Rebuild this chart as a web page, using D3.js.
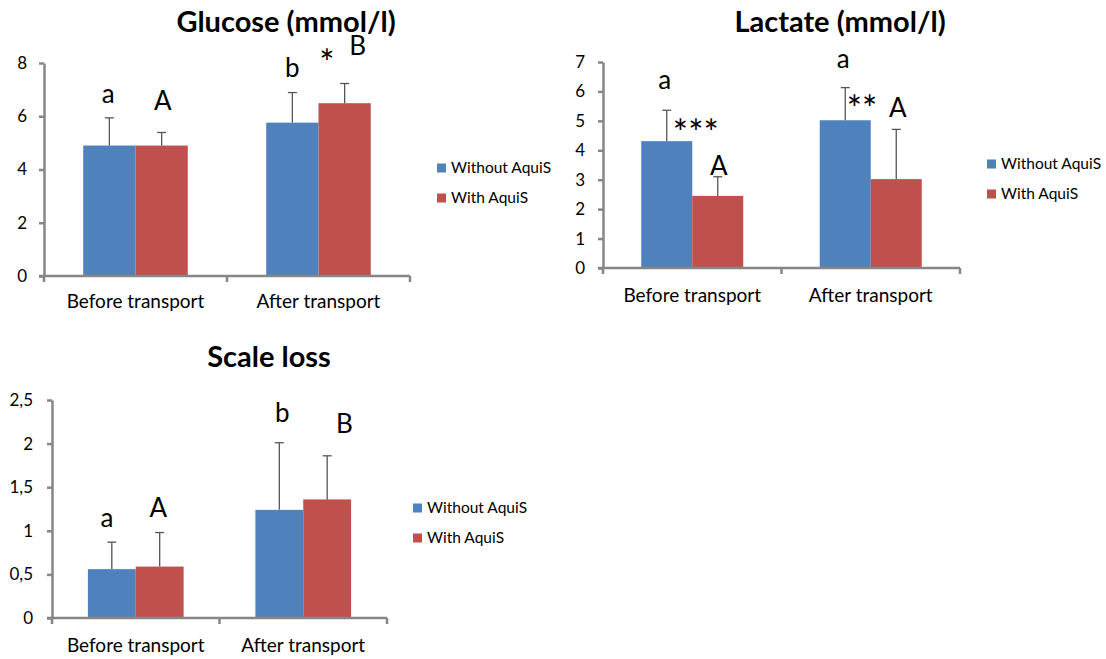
<!DOCTYPE html>
<html>
<head>
<meta charset="utf-8">
<script src="https://cdn.jsdelivr.net/npm/d3@7"></script>
<style>
  html, body { margin: 0; padding: 0; background: #fff; }
  svg { display: block; font-family: Lato, "Open Sans", sans-serif; }
</style>
</head>
<body>
<svg id="chart" width="1106" height="659"></svg>
<script>
// ---------- data ----------
const categories = ["Before transport", "After transport"];
const seriesNames = ["Without AquiS", "With AquiS"];
const seriesColors = ["#4F81BD", "#C0504D"];

const glucoseTitle = "Glucose (mmol/l)";
const glucoseWithout = [4.90, 5.76];
const glucoseWith = [4.90, 6.49];
const glucoseWithoutSD = [1.04, 1.13];
const glucoseWithSD = [0.49, 0.74];
const glucoseTicks = [0, 2, 4, 6, 8];
const glucoseNotes = [
  {t: "a", c: 0, s: 0, v: 6.50, dx: -0.02},
  {t: "A", c: 0, s: 1, v: 6.24, dx: 0.02},
  {t: "b", c: 1, s: 0, v: 7.48, dx: 0},
  {t: "*", c: 1, s: 0, v: 7.51, dx: 0.66},
  {t: "B", c: 1, s: 1, v: 8.30, dx: 0.25}
];

const lactateTitle = "Lactate (mmol/l)";
const lactateWithout = [4.31, 5.02];
const lactateWith = [2.45, 3.02];
const lactateWithoutSD = [1.05, 1.11];
const lactateWithSD = [0.65, 1.69];
const lactateTicks = [0, 1, 2, 3, 4, 5, 6, 7];
const lactateNotes = [
  {t: "a", c: 0, s: 0, v: 6.08, dx: -0.04},
  {t: "***", c: 0, s: 0, v: 4.15, dx: 0.57},
  {t: "A", c: 0, s: 1, v: 3.16, dx: 0.02},
  {t: "a", c: 1, s: 0, v: 6.80, dx: -0.04},
  {t: "**", c: 1, s: 0, v: 4.96, dx: 0.33},
  {t: "A", c: 1, s: 1, v: 5.13, dx: 0.03}
];

const scaleTitle = "Scale loss";
const scaleWithout = [0.56, 1.24];
const scaleWith = [0.59, 1.36];
const scaleWithoutSD = [0.31, 0.77];
const scaleWithSD = [0.39, 0.50];
const scaleTicks = [0, 0.5, 1, 1.5, 2, 2.5];
const scaleNotes = [
  {t: "a", c: 0, s: 0, v: 1.04, dx: -0.1},
  {t: "A", c: 0, s: 1, v: 1.16, dx: -0.03},
  {t: "b", c: 1, s: 0, v: 2.25, dx: 0.06},
  {t: "B", c: 1, s: 1, v: 2.12, dx: 0.36}
];

const commaFmt = d3.formatLocale({decimal: ",", thousands: ".", grouping: [3], currency: ["", ""]}).format("~g");

// ---------- layout ----------
const panels = [
  {title: glucoseTitle, values: [glucoseWithout, glucoseWith], sds: [glucoseWithoutSD, glucoseWithSD],
   ticks: glucoseTicks, notes: glucoseNotes,
   x0: 44, x1: 410, yTop: 63, yBot: 276, labelX: 27, catY: 308,
   titleX: 286, titleY: 32, legX: 437, legY: 168},
  {title: lactateTitle, values: [lactateWithout, lactateWith], sds: [lactateWithoutSD, lactateWithSD],
   ticks: lactateTicks, notes: lactateNotes,
   x0: 603, x1: 960, yTop: 62, yBot: 268, labelX: 585, catY: 302,
   titleX: 840, titleY: 32, legX: 987, legY: 164},
  {title: scaleTitle, values: [scaleWithout, scaleWith], sds: [scaleWithoutSD, scaleWithSD],
   ticks: scaleTicks, notes: scaleNotes, fmt: commaFmt,
   x0: 52, x1: 387, yTop: 400, yBot: 618, labelX: 33, catY: 652,
   titleX: 269, titleY: 367, legX: 413, legY: 508}
];

const svg = d3.select("#chart");
const axisColor = "#868686";

panels.forEach(p => {
  const g = svg.append("g");
  const maxV = p.ticks[p.ticks.length - 1];
  const y = d3.scaleLinear().domain([0, maxV]).range([p.yBot, p.yTop]);
  const x = d3.scaleBand().domain(categories).range([p.x0, p.x1]).paddingInner(0).paddingOuter(0);
  const bw = x.bandwidth();
  const barW = bw / 3.5;
  const gap = (bw - 2 * barW) / 2;
  const xs = d3.scaleBand().domain([0, 1]).range([gap, bw - gap]).padding(0);

  // title
  g.append("text").attr("x", p.titleX).attr("y", p.titleY)
    .attr("text-anchor", "middle").attr("font-size", 29).attr("font-weight", "bold")
    .attr("fill", "#000").text(p.title);

  // bars
  [0, 1].forEach(s => {
    g.selectAll(null).data(categories).enter().append("rect")
      .attr("x", (c) => x(c) + xs(s))
      .attr("y", (c, i) => y(p.values[s][i]))
      .attr("width", xs.bandwidth())
      .attr("height", (c, i) => y(0) - y(p.values[s][i]))
      .attr("fill", seriesColors[s]);
  });

  // error bars
  [0, 1].forEach(s => {
    categories.forEach((c, i) => {
      const cx = x(c) + xs(s) + xs.bandwidth() / 2;
      const top = y(p.values[s][i] + p.sds[s][i]);
      g.append("line").attr("x1", cx).attr("x2", cx)
        .attr("y1", y(p.values[s][i])).attr("y2", top)
        .attr("stroke", "#555").attr("stroke-width", 1.3);
      g.append("line").attr("x1", cx - 4.5).attr("x2", cx + 4.5)
        .attr("y1", top).attr("y2", top)
        .attr("stroke", "#555").attr("stroke-width", 1.3);
    });
  });

  // y axis
  const yAxis = d3.axisLeft(y).tickValues(p.ticks).tickSize(5).tickSizeOuter(0)
    .tickFormat(p.fmt || d3.format("d"));
  const ya = g.append("g").attr("transform", `translate(${p.x0},0)`).call(yAxis);
  ya.select(".domain").attr("stroke", axisColor).attr("stroke-width", 2.5);
  ya.selectAll(".tick line").attr("stroke", axisColor).attr("stroke-width", 2.5);
  ya.selectAll(".tick text").attr("x", p.labelX - p.x0).attr("text-anchor", "end")
    .attr("font-size", 17).attr("fill", "#000").attr("font-family", "Lato, sans-serif");

  // x axis
  const xa = g.append("g").attr("transform", `translate(0,${p.yBot})`);
  xa.append("line").attr("x1", p.x0 - 5).attr("x2", p.x1).attr("y1", 0).attr("y2", 0)
    .attr("stroke", axisColor).attr("stroke-width", 2.5);
  const bounds = categories.map(c => x(c)).concat([p.x1]);
  xa.selectAll(null).data(bounds).enter().append("line")
    .attr("x1", d => d).attr("x2", d => d).attr("y1", 0).attr("y2", 6)
    .attr("stroke", axisColor).attr("stroke-width", 2.5);
  g.selectAll(null).data(categories).enter().append("text")
    .attr("x", c => x(c) + bw / 2).attr("y", p.catY)
    .attr("text-anchor", "middle").attr("font-size", 19).attr("fill", "#000")
    .text(c => c);

  // annotations
  g.selectAll(null).data(p.notes).enter().append("text")
    .attr("x", d => x(categories[d.c]) + xs(d.s) + xs.bandwidth() / 2 + d.dx * barW)
    .attr("y", d => y(d.v))
    .attr("text-anchor", "middle")
    .attr("font-size", d => d.t.startsWith("*") ? 36 : 26)
    .attr("fill", "#000")
    .text(d => d.t);

  // legend
  seriesNames.forEach((n, s) => {
    const ly = p.legY + s * 30;
    g.append("rect").attr("x", p.legX).attr("y", ly - 4.5).attr("width", 9).attr("height", 9)
      .attr("fill", seriesColors[s]);
    g.append("text").attr("x", p.legX + 14).attr("y", ly).attr("dy", "0.35em")
      .attr("font-size", 15.5).attr("fill", "#000").text(n);
  });
});
</script>
</body>
</html>
